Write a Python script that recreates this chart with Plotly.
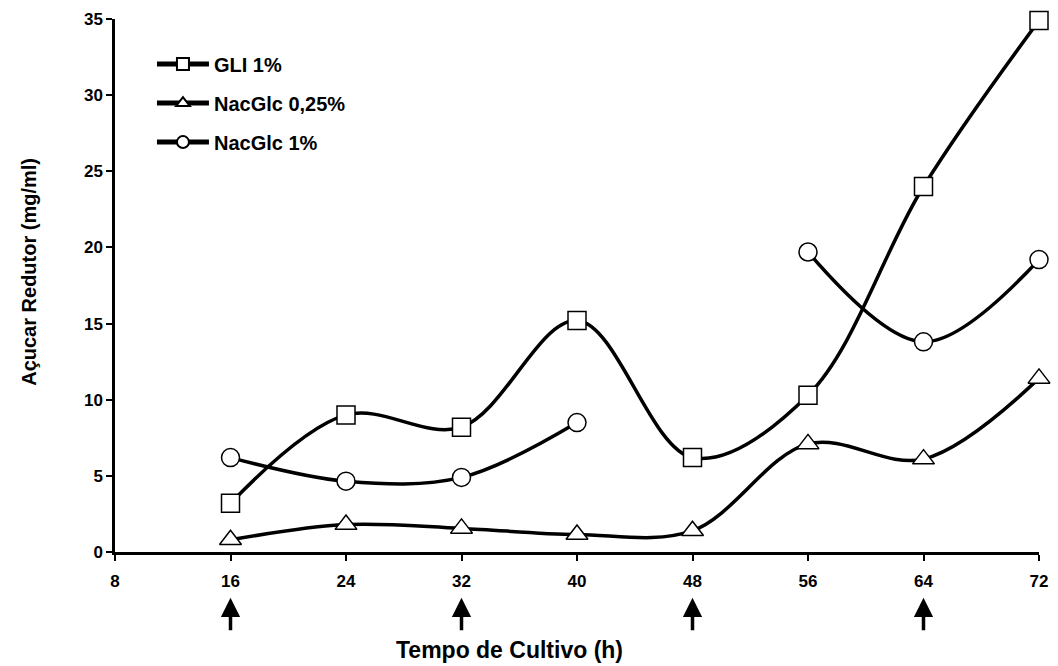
import plotly.graph_objects as go

# Data
hours = [16, 24, 32, 40, 48, 56, 64, 72]
gli_1 = [3.2, 9.0, 8.2, 15.2, 6.2, 10.3, 24.0, 34.9]
nacglc_025 = [0.8, 1.8, 1.55, 1.15, 1.4, 7.1, 6.1, 11.4]
nacglc_1 = [6.2, 4.65, 4.9, 8.5, None, 19.7, 13.8, 19.2]
arrow_hours = [16, 32, 48, 64]
x_ticks = [8, 16, 24, 32, 40, 48, 56, 64, 72]
y_ticks = [0, 5, 10, 15, 20, 25, 30, 35]
x_title = "Tempo de Cultivo (h)"
y_title = "Açucar Redutor (mg/ml)"

series = [
    ("GLI 1%", gli_1, "square"),
    ("NacGlc 0,25%", nacglc_025, "triangle-up"),
    ("NacGlc 1%", nacglc_1, "circle"),
]

FONT = "Liberation Sans, Arial, Helvetica, sans-serif"

fig = go.Figure()
for i, (name, vals, sym) in enumerate(series):
    fig.add_trace(go.Scatter(
        x=hours, y=vals, name=name, mode="lines+markers",
        line=dict(color="black", width=3.5, shape="spline", smoothing=1.0),
        marker=dict(symbol=sym, size=18 if sym != "triangle-up" else 19,
                    color="white", line=dict(color="black", width=1.5)),
        connectgaps=False, cliponaxis=False, legendgroup=f"g{i}",
    ))

for h in arrow_hours:
    fig.add_annotation(
        x=h, xref="x", y=-0.086, yref="paper", text="", showarrow=True,
        ax=0, ay=34, axref="pixel", ayref="pixel",
        arrowhead=2, arrowsize=1.1, arrowwidth=3.5, arrowcolor="black",
    )

# Axis titles (placed as annotations to match reference offsets)
fig.add_annotation(
    x=0.427, y=-0.184, xref="paper", yref="paper", text=x_title,
    showarrow=False, xanchor="center", yanchor="middle",
    font=dict(family=FONT, size=23, color="black", weight="bold"),
)
fig.add_annotation(
    x=-0.094, y=0.526, xref="paper", yref="paper", text=y_title,
    showarrow=False, textangle=-90, xanchor="center", yanchor="middle",
    font=dict(family=FONT, size=20, color="black", weight="bold"),
)

fig.update_layout(
    width=1058, height=666,
    margin=dict(l=115, r=10, t=18, b=114),
    paper_bgcolor="white", plot_bgcolor="white",
    font=dict(family=FONT, color="black", size=16),
    showlegend=True,
    legend=dict(
        x=0.04, y=0.952, xanchor="left", yanchor="top",
        font=dict(family=FONT, size=20, color="black", weight="bold"),
        bgcolor="rgba(0,0,0,0)", tracegroupgap=10, itemsizing="constant",
        itemwidth=52,
    ),
    xaxis=dict(
        range=[8, 72], tickmode="array", tickvals=x_ticks,
        ticktext=[str(v) for v in x_ticks],
        showline=True, linewidth=2.5, linecolor="black", mirror=False,
        ticks="outside", ticklen=6, tickwidth=2, tickcolor="black",
        ticklabelstandoff=6,
        showgrid=False, zeroline=False,
        tickfont=dict(family=FONT, size=17, color="black", weight="bold"),
    ),
    yaxis=dict(
        range=[0, 35], tickmode="array", tickvals=y_ticks,
        showline=True, linewidth=2.5, linecolor="black",
        ticks="outside", ticklen=6, tickwidth=2, tickcolor="black",
        showgrid=False, zeroline=False,
        tickfont=dict(family=FONT, size=17, color="black", weight="bold"),
    ),
)

fig.write_html("out.html", config={"displayModeBar": False},
               post_script="document.body.style.margin='0';")
